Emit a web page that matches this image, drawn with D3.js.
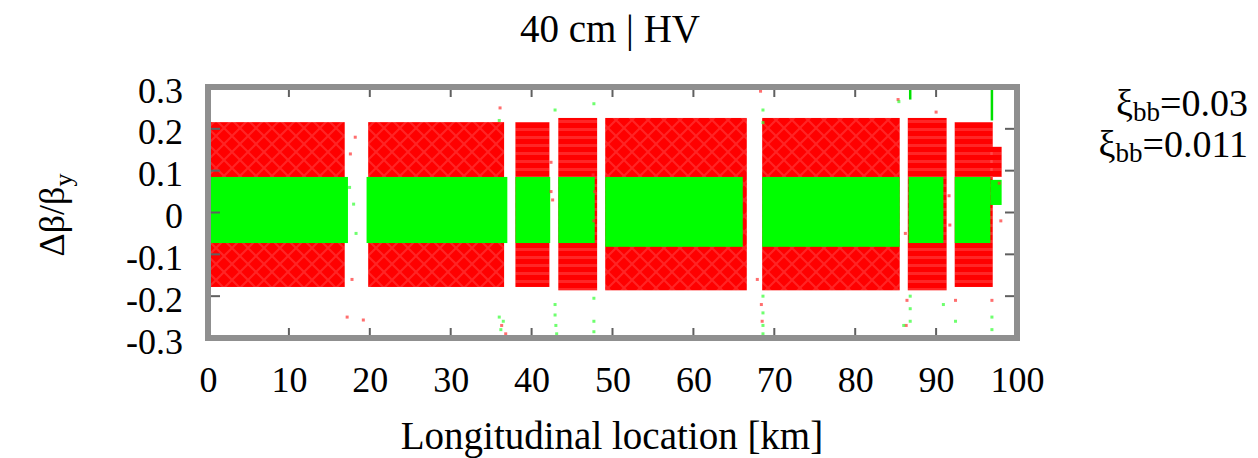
<!DOCTYPE html>
<html>
<head>
<meta charset="utf-8">
<script src="https://cdn.jsdelivr.net/npm/d3@7"></script>
<style>
  body { margin: 0; background: #fff; }
  text { font-family: "Liberation Serif", "DejaVu Serif", serif; fill: #000; }
</style>
</head>
<body>
<div id="chart"></div>
<script>
// red band = xi 0.03, green band = xi 0.011 ; [start km, end km, top, bottom]
const redSegments = [
    [0, 16.9, 0.216, -0.178],
    [19.8, 36.6, 0.216, -0.178],
    [38.0, 42.2, 0.216, -0.178],
    [43.3, 48.1, 0.226, -0.186],
    [49.1, 66.6, 0.226, -0.186],
    [68.5, 85.5, 0.226, -0.186],
    [86.5, 91.3, 0.226, -0.186],
    [92.3, 97.0, 0.216, -0.178],
    [96.7, 98.1, 0.157, 0.085]
];
const greenSegments = [
    [0, 17.3, 0.085, -0.073],
    [19.6, 37.0, 0.085, -0.073],
    [38.0, 42.3, 0.085, -0.073],
    [43.3, 47.8, 0.085, -0.073],
    [49.1, 66.1, 0.085, -0.082],
    [68.5, 85.5, 0.085, -0.082],
    [86.6, 90.9, 0.085, -0.073],
    [92.3, 96.7, 0.085, -0.073],
    [96.7, 98.1, 0.078, 0.018]
];
const redDots = [
    [17.2, -0.25], [19.2, -0.257], [17.6, 0.14], [18.2, 0.18], [17.8, -0.16],
    [36.1, 0.25], [36.3, -0.27], [36.8, -0.29], [42.4, 0.12], [42.4, 0.05],
    [42.6, 0.03], [47.6, 0.09], [47.8, 0.05], [47.7, -0.02], [67.9, -0.16],
    [68.3, 0.29], [68.4, -0.22], [68.5, -0.26], [85.3, 0.27], [86.2, -0.05],
    [86.4, -0.21], [86.3, -0.27], [90.0, 0.24], [91.6, 0.04], [91.7, -0.03],
    [92.4, -0.21], [96.9, -0.21], [97.8, 0.07], [98.0, -0.02]
];
const greenDots = [
    [17.5, 0.06], [18.0, 0.02], [18.3, -0.05], [36.0, 0.22], [36.0, -0.25],
    [36.5, -0.26], [36.2, -0.28], [42.9, 0.245], [42.9, -0.22], [42.9, -0.245],
    [43.0, -0.27], [43.1, -0.29], [47.7, 0.26], [47.7, -0.205], [47.7, -0.26],
    [47.7, -0.285], [68.6, 0.245], [68.6, 0.215], [68.6, -0.2], [68.6, -0.24],
    [68.6, -0.27], [68.6, -0.29], [85.4, 0.265], [86.8, -0.2], [86.8, -0.23],
    [86.8, -0.26], [86.0, -0.27], [90.9, -0.22], [92.4, -0.26], [96.9, -0.28],
    [96.9, -0.25]
];
// vertical green streaks: [km, from, to]
const greenStreaks = [[96.9, 0.3, 0.22], [86.8, 0.3, 0.27]];

const xTicks = [0, 10, 20, 30, 40, 50, 60, 70, 80, 90, 100];
const yTicks = [-0.3, -0.2, -0.1, 0, 0.1, 0.2, 0.3];
const yTickLabels = ["-0.3", "-0.2", "-0.1", "0", "0.1", "0.2", "0.3"];
const legendItems = ["0.03", "0.011"];

const width = 1258, height = 458;
const svg = d3.select("#chart").append("svg")
    .attr("width", width)
    .attr("height", height);

const x = d3.scaleLinear().domain([0, 100]).range([208, 1017]);
const y = d3.scaleLinear().domain([-0.3, 0.3]).range([338, 87]);

const defs = svg.append("defs");
defs.append("pattern").attr("id", "hatch")
    .attr("width", 16).attr("height", 16)
    .attr("patternUnits", "userSpaceOnUse")
    .append("path")
    .attr("d", "M0,0L16,16M16,0L0,16")
    .attr("stroke", "#fff").attr("stroke-opacity", 0.14).attr("stroke-width", 2);
defs.append("pattern").attr("id", "stripes")
    .attr("width", 8).attr("height", 8)
    .attr("patternUnits", "userSpaceOnUse")
    .append("rect")
    .attr("x", 0).attr("y", 0).attr("width", 8).attr("height", 3)
    .attr("fill", "#fff").attr("fill-opacity", 0.15);

// red bands
svg.append("g").selectAll("rect")
    .data(redSegments)
    .enter().append("rect")
    .attr("x", d => x(d[0]))
    .attr("width", d => x(d[1]) - x(d[0]))
    .attr("y", d => y(d[2]))
    .attr("height", d => y(d[3]) - y(d[2]))
    .attr("fill", "#ff0000");

svg.append("g").selectAll("rect")
    .data(redSegments)
    .enter().append("rect")
    .attr("x", d => x(d[0]))
    .attr("width", d => x(d[1]) - x(d[0]))
    .attr("y", d => y(d[2]))
    .attr("height", d => y(d[3]) - y(d[2]))
    .attr("fill", d => (d[1] - d[0] < 6 ? "url(#stripes)" : "url(#hatch)"));

// green bands
svg.append("g").selectAll("rect")
    .data(greenSegments)
    .enter().append("rect")
    .attr("x", d => x(d[0]))
    .attr("width", d => x(d[1]) - x(d[0]))
    .attr("y", d => y(d[2]))
    .attr("height", d => y(d[3]) - y(d[2]))
    .attr("fill", "#00ff00");

// scattered points
svg.append("g").selectAll("rect")
    .data(redDots)
    .enter().append("rect")
    .attr("x", d => x(d[0]) - 1.5)
    .attr("y", d => y(d[1]) - 1.5)
    .attr("width", 3).attr("height", 3)
    .attr("fill", "#ff3030").attr("fill-opacity", 0.7);

svg.append("g").selectAll("rect")
    .data(greenDots)
    .enter().append("rect")
    .attr("x", d => x(d[0]) - 1.5)
    .attr("y", d => y(d[1]) - 1.5)
    .attr("width", 3).attr("height", 3)
    .attr("fill", "#30ff30").attr("fill-opacity", 0.7);

svg.append("g").selectAll("line")
    .data(greenStreaks)
    .enter().append("line")
    .attr("x1", d => x(d[0])).attr("x2", d => x(d[0]))
    .attr("y1", d => y(d[1])).attr("y2", d => y(d[2]))
    .attr("stroke", "#00e000").attr("stroke-width", 2.5);

// inner ticks
const tickG = svg.append("g").attr("stroke", "#606060").attr("stroke-width", 2);
xTicks.forEach(t => {
    tickG.append("line").attr("x1", x(t)).attr("x2", x(t)).attr("y1", y(0.3)).attr("y2", y(0.3) + 10);
    tickG.append("line").attr("x1", x(t)).attr("x2", x(t)).attr("y1", y(-0.3)).attr("y2", y(-0.3) - 10);
});
yTicks.forEach(t => {
    tickG.append("line").attr("x1", x(100)).attr("x2", x(100) - 12).attr("y1", y(t)).attr("y2", y(t));
    tickG.append("line").attr("x1", x(0)).attr("x2", x(0) + 12).attr("y1", y(t)).attr("y2", y(t));
});

// frame
svg.append("rect")
    .attr("x", x(0)).attr("y", y(0.3))
    .attr("width", x(100) - x(0)).attr("height", y(-0.3) - y(0.3))
    .attr("fill", "none")
    .attr("stroke", "#8f8f8f")
    .attr("stroke-width", 6);

// axes labels
const xAxis = svg.append("g")
    .attr("transform", "translate(0," + y(-0.3) + ")")
    .call(d3.axisBottom(x).tickValues(xTicks).tickSize(0).tickPadding(28));
const yAxis = svg.append("g")
    .attr("transform", "translate(" + x(0) + ",0)")
    .call(d3.axisLeft(y).tickValues(yTicks).tickSize(0).tickPadding(25)
        .tickFormat((d, i) => yTickLabels[i]));
[xAxis, yAxis].forEach(a => {
    a.select(".domain").remove();
    a.selectAll("text")
        .attr("font-family", "Liberation Serif")
        .attr("font-size", 36)
        .attr("fill", "#000");
});
yAxis.selectAll("text").attr("dy", "0.42em");

// title
svg.append("text")
    .attr("x", 610).attr("y", 42)
    .attr("text-anchor", "middle")
    .style("font-size", "39px")
    .text("40 cm | HV");

// x label
svg.append("text")
    .attr("x", 612).attr("y", 449)
    .attr("text-anchor", "middle")
    .style("font-size", "39px")
    .text("Longitudinal location [km]");

// y label
const yl = svg.append("text")
    .attr("transform", "translate(64,215) rotate(-90)")
    .attr("text-anchor", "middle")
    .style("font-size", "36px");
yl.append("tspan").text("Δβ/β");
yl.append("tspan").attr("dy", 8).style("font-size", "26px").text("y");

// legend
legendItems.forEach((v, i) => {
    const t = svg.append("text")
        .attr("x", 1248).attr("y", 116 + i * 41)
        .attr("text-anchor", "end")
        .style("font-size", "38px");
    t.append("tspan").text("ξ");
    t.append("tspan").attr("dy", 5).style("font-size", "27px").text("bb");
    t.append("tspan").attr("dy", -5).text("=" + v);
});
</script>
</body>
</html>
